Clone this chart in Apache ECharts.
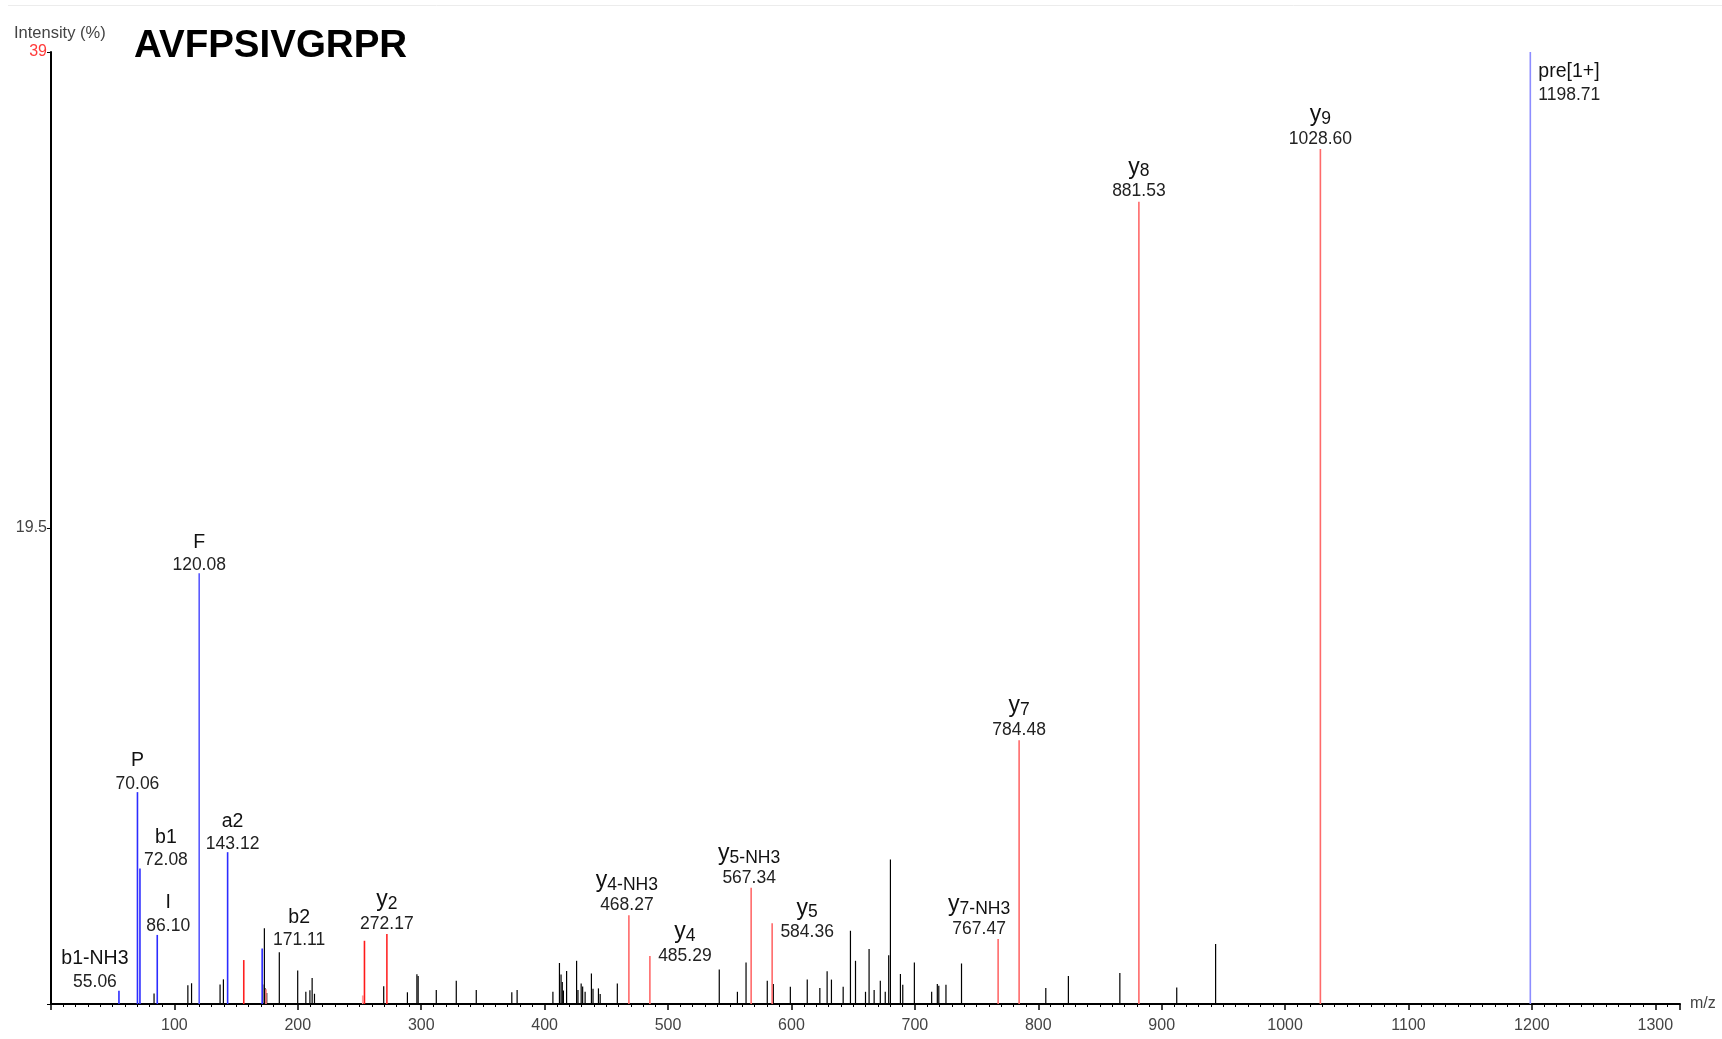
<!DOCTYPE html>
<html>
<head>
<meta charset="utf-8">
<script src="https://cdn.jsdelivr.net/npm/echarts@6/dist/echarts.min.js"></script>
<style>
html,body{margin:0;padding:0;background:#fff;}
#chart{width:1722px;height:1039px;}
</style>
</head>
<body>
<div id="chart"></div>
<script>
// ---------------- DATA ----------------
const peptide = 'AVFPSIVGRPR';
const yAxisTitle = 'Intensity (%)';
const xAxisTitle = 'm/z';

// axis ranges / ticks
const xMin = 0, xMax = 1320, xStep = 100;
const yMin = 0, yMax = 39, yStep = 19.5;
const yTickLabels = ['', '19.5', '39'];

// annotated fragment ions
const labeledIon = ['b1-NH3', 'P', 'b1', 'I', 'F', 'a2', 'b2', 'y2', 'y4-NH3', 'y4', 'y5-NH3', 'y5', 'y7-NH3', 'y7', 'y8', 'y9', 'pre[1+]'];
const labeledMz = [55.06, 70.06, 72.08, 86.10, 120.08, 143.12, 171.11, 272.17, 468.27, 485.29, 567.34, 584.36, 767.47, 784.48, 881.53, 1028.60, 1198.71];
const labeledIntensity = [0.54, 8.68, 5.55, 2.83, 17.65, 6.22, 2.27, 2.87, 3.64, 1.97, 4.76, 3.31, 2.66, 10.81, 32.87, 35.03, 39.0];

// unannotated red (y-type) peaks
const redMz = [156.2, 174.2, 252.6, 254.0];
const redIntensity = [1.80, 0.60, 0.35, 2.59];

// unannotated peaks (black)
const otherMz = [83.5, 110.9, 113.9, 137.0, 139.7, 171.6, 172.9, 173.5, 174.8, 185.0, 199.9, 206.5, 209.8, 211.6, 213.5,
  269.6, 288.8, 296.5, 297.5, 312.2, 328.4, 344.6, 373.4, 377.7, 406.7, 412.0, 413.3, 414.3, 415.2, 417.8, 425.9, 427.0,
  429.6, 430.8, 432.8, 437.9, 439.2, 443.6, 445.0, 458.9, 541.5, 556.2, 563.2, 580.4, 585.3, 599.1, 612.8, 623.0, 628.9,
  632.4, 641.9, 647.8, 651.9, 660.0, 662.9, 667.0, 672.0, 676.0, 678.8, 680.2, 688.3, 690.2, 699.6, 713.6, 718.2, 719.4,
  725.2, 737.8, 806.1, 824.4, 866.1, 912.2, 943.7];
const otherIntensity = [0.43, 0.77, 0.85, 0.80, 1.01, 0.80, 3.10, 0.65, 0.45, 2.12, 1.37, 0.50, 0.56, 1.07, 0.42,
  0.73, 0.48, 1.22, 1.15, 0.57, 0.95, 0.57, 0.48, 0.57, 0.50, 1.68, 1.21, 0.90, 0.55, 1.35, 1.77, 0.57,
  0.84, 0.72, 0.50, 1.25, 0.62, 0.64, 0.41, 0.84, 1.41, 0.50, 1.70, 0.95, 0.82, 0.71, 1.00, 0.66, 1.34,
  1.00, 0.71, 3.00, 1.77, 0.50, 2.25, 0.57, 0.95, 0.50, 2.00, 5.92, 1.23, 0.79, 1.70, 0.50, 0.82, 0.75,
  0.79, 1.66, 0.66, 1.15, 1.27, 0.68, 2.46];

// ---------------- LAYOUT / STYLE ----------------
// label nudges [dx, dy] in px, 'R' = label to the right of the peak top
const labelNudge = [[-24, 1], [0, 2], [26, 2], [11, 1], [0, 2], [5, 2], [37, 2], [0, 0], [-2, 0], [35, 10], [-2, 0], [35, 19], [-19, 0], [0, 0], [0, 0], [0, 0], 'R'];
const FONT = '"Liberation Sans", Arial, Helvetica, sans-serif';
const ionColors = { 'pre[1+]': '#8d8dff', 'F': '#5a5aff', 'y2': '#ff2626' };
function ionColor(name) {
  if (ionColors[name]) return ionColors[name];
  return name.charAt(0) === 'y' ? '#ff6a6a' : '#2c2cff';
}
const redColors = ['#ff2020', '#ff8080', '#ff9a9a', '#ff1a1a'];

function ionRich(name) {
  const m = /^y(.+)$/.exec(name);
  if (m) return '{y|y}{s|' + m[1] + '}';
  return '{n|' + name + '}';
}

function stem(api, color, width) {
  const mz = api.value(0), inten = api.value(1);
  const b = api.coord([mz, 0]);
  const t = api.coord([mz, inten]);
  return { type: 'line', shape: { x1: b[0], y1: b[1], x2: t[0], y2: t[1] }, style: { stroke: color, lineWidth: width } };
}

const chart = echarts.init(document.getElementById('chart'), null, { renderer: 'canvas' });

const option = {
  backgroundColor: '#ffffff',
  animation: false,
  title: {
    text: peptide,
    left: 129,
    top: 22,
    textStyle: { fontFamily: FONT, fontSize: 38.5, fontWeight: 'bold', color: '#000' }
  },
  graphic: [
    { type: 'line', shape: { x1: 8, y1: 5.5, x2: 1722, y2: 5.5 }, style: { stroke: '#ececec', lineWidth: 1 }, silent: true },
    { type: 'text', left: 14, top: 25, style: { text: yAxisTitle, fontFamily: FONT, fontSize: 16.5, fill: '#444' } }
  ],
  grid: { left: 51, right: 42, top: 52, bottom: 35, containLabel: false },
  xAxis: {
    type: 'value', min: xMin, max: xMax, interval: xStep,
    name: xAxisTitle, nameLocation: 'end', nameGap: 10,
    nameTextStyle: { fontFamily: FONT, fontSize: 16, color: '#444', padding: [22, 0, 0, 0] },
    axisLine: { show: true, lineStyle: { color: '#000', width: 2 } },
    axisTick: { show: true, length: 6, lineStyle: { color: '#000', width: 1.5 } },
    minorTick: { show: true, splitNumber: 10, length: 3, lineStyle: { color: '#000', width: 1 } },
    axisLabel: {
      fontFamily: FONT, fontSize: 16, color: '#444', margin: 14, showMaxLabel: false,
      formatter: v => (v > 0 && v % 100 === 0) ? String(v) : ''
    },
    splitLine: { show: false }
  },
  yAxis: {
    type: 'value', min: yMin, max: yMax, interval: yStep,
    axisLine: { show: true, lineStyle: { color: '#000', width: 2 } },
    axisTick: { show: true, length: 4, lineStyle: { color: '#000' } },
    axisLabel: {
      fontFamily: FONT, fontSize: 16, color: '#444', margin: 4, showMaxLabel: true,
      formatter: (v) => {
        const idx = Math.round(v / yStep);
        const t = yTickLabels[idx] || '';
        return idx === yTickLabels.length - 1 ? '{r|' + t + '}' : t;
      },
      rich: { r: { fontFamily: FONT, fontSize: 16, color: '#ff3b3b' } }
    },
    splitLine: { show: false }
  },
  series: [
    {
      type: 'custom', name: 'other', coordinateSystem: 'cartesian2d',
      data: otherMz.map((m, i) => [m, otherIntensity[i]]),
      renderItem: (params, api) => stem(api, '#000', 1.2),
      z: 2
    },
    {
      type: 'custom', name: 'red', coordinateSystem: 'cartesian2d',
      data: redMz.map((m, i) => [m, redIntensity[i]]),
      renderItem: (params, api) => stem(api, redColors[params.dataIndex], 1.6),
      z: 3
    },
    {
      type: 'custom', name: 'labeled', coordinateSystem: 'cartesian2d',
      data: labeledMz.map((m, i) => [m, labeledIntensity[i]]),
      renderItem: (params, api) => {
        const i = params.dataIndex;
        const ion = labeledIon[i];
        const t = api.coord([api.value(0), api.value(1)]);
        const nudge = labelNudge[i];
        let x, numY, nameY, align;
        if (nudge === 'R') {
          align = 'left'; x = t[0] + 8; nameY = t[1] + 20; numY = t[1] + 43;
        } else {
          align = 'center'; x = t[0] + nudge[0]; numY = t[1] - 10 + nudge[1];
          nameY = numY - (ion.charAt(0) === 'y' ? 24 : 23);
        }
        return {
          type: 'group',
          children: [
            stem(api, ionColor(ion), 1.6),
            { type: 'text', style: { text: labeledMz[i].toFixed(2), x: x, y: numY, align: align, verticalAlign: 'middle',
              fontFamily: FONT, fontSize: 17.5, fill: '#222' } },
            { type: 'text', style: { text: ionRich(ion), x: x, y: nameY, align: align, verticalAlign: 'middle',
              fontFamily: FONT, fill: '#111',
              rich: {
                n: { fontFamily: FONT, fontSize: 19.5, color: '#111', lineHeight: 24, verticalAlign: 'middle' },
                y: { fontFamily: FONT, fontSize: 23, color: '#111', lineHeight: 26, verticalAlign: 'middle' },
                s: { fontFamily: FONT, fontSize: 17.5, color: '#111', lineHeight: 17, verticalAlign: 'bottom' }
              } } }
          ]
        };
      },
      z: 4
    }
  ]
};
chart.setOption(option);
</script>
</body>
</html>
